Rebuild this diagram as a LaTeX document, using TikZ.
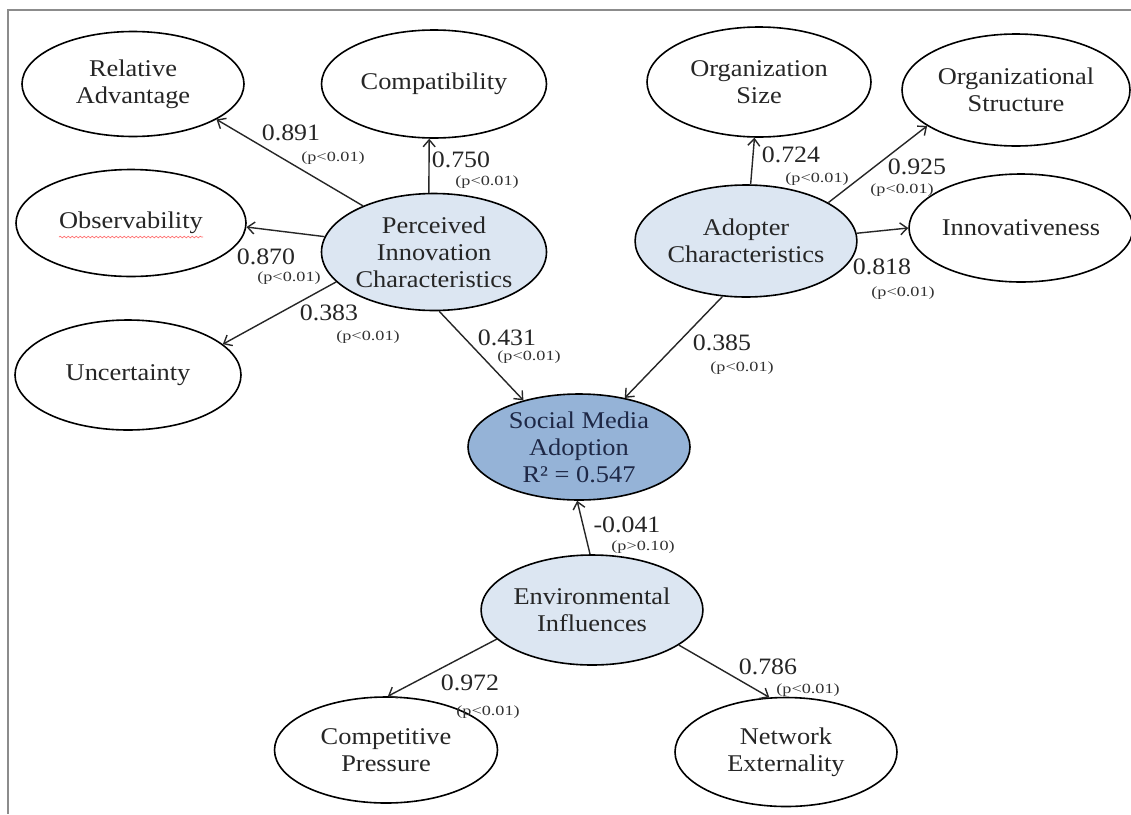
\documentclass[tikz,border=0pt]{standalone}
\usepackage{fontspec}
\setmainfont{Liberation Serif}[FakeStretch=1.1]
\newfontfamily\pvalfont{Liberation Serif}[FakeStretch=1.3]
\usepackage{xcolor}
\usepackage{tikz}
\usetikzlibrary{arrows.meta, shapes.geometric, decorations.pathmorphing}
\definecolor{lightfill}{RGB}{220,230,242}
\definecolor{darkfill}{RGB}{149,179,215}
\definecolor{framegray}{RGB}{140,140,140}
\definecolor{navytext}{RGB}{30,40,70}
\tikzset{
  construct/.style={ellipse, draw=black, line width=1.6pt, align=center, inner sep=0pt,
    font=\fontsize{24}{27}\selectfont, text=black!85},
  latent/.style={construct, fill=lightfill},
  coef/.style={font=\fontsize{23.5}{25}\selectfont, text=black!85, inner sep=0pt},
  pval/.style={font=\pvalfont\fontsize{14}{16}\selectfont, text=black!80, inner sep=0pt},
  arr/.style={-{Straight Barb[length=7pt,width=12pt]}, line width=1.4pt, black!85},
}
\begin{document}
\begin{tikzpicture}[x=1pt, y=-1pt]
			\useasboundingbox (0,0) rectangle (1131,814);
			\fill[white] (0,0) rectangle (1131,814);
			\draw[framegray, line width=2pt] (1131,10) -- (8,10) -- (8,814);
			% indicator constructs
			\foreach \nm/\x/\y/\w/\h/\lab in {ra/133/84/222/105/{Relative\\Advantage}, comp/434/84/225/108/{Compatibility},
				obs/131/223/230/107/{Observability}, unc/128/375/226/110/{Uncertainty},
				osize/759/82/224/110/{Organization\\Size}, ostr/1016/90/228/112/{Organizational\\Structure},
				innov/1021/228/217/108/{Innovativeness}, cp/386/750/223/106/{Competitive\\Pressure},
				ne/786/752/222/109/{Network\\Externality}}
			{
				\node[construct, minimum width=\w pt, minimum height=\h pt] (\nm) at (\x,\y) {\lab};
			}
			% latent constructs
			\node[latent, minimum width=225pt, minimum height=117pt] (pic) at (434,252) {Perceived\\Innovation\\Characteristics};
			\node[latent, minimum width=221pt, minimum height=112pt] (adopt) at (746,241) {Adopter\\Characteristics};
			\node[latent, minimum width=220pt, minimum height=110pt] (env) at (592,610) {Environmental\\Influences};
			\node[construct, fill=darkfill, text=navytext, minimum width=222pt, minimum height=106pt] (sma) at (579,447) {Social Media\\Adoption\\R² = 0.547};
			\draw[red!55, line width=0.7pt, decorate, decoration={snake, amplitude=0.8pt, segment length=4pt}]
				([xshift=-72pt, yshift=-14pt]obs.center) -- ([xshift=72pt, yshift=-14pt]obs.center);
			\foreach \a/\b in {pic.147/ra.337, pic.95/comp.265, pic.172/obs.358, pic.197/unc.18, pic.275/sma.140,
				adopt/osize, adopt.25/ostr.202, adopt.4/innov.180, adopt.247/sma.47,
				env.92/sma.268, env.197/cp.88, env.338/ne.107}
			{
				\draw[arr] (\a) -- (\b);
			}
			% path coefficients
			\foreach \nm/\x/\y/\v/\px/\py/\p in {a/291/133/0.891/333/158/{(p<0.01)}, b/461/160/0.750/487/182/{(p<0.01)},
				c/266/257/0.870/289/278/{(p<0.01)}, d/329/313/0.383/368/337/{(p<0.01)},
				e/507/338/0.431/529/357/{(p<0.01)}, f/791/155/0.724/817/179/{(p<0.01)},
				g/917/167/0.925/902/190/{(p<0.01)}, h/882/267/0.818/903/293/{(p<0.01)},
				i/722/343/0.385/742/368/{(p<0.01)}, j/627/525/-0.041/643/547/{(p>0.10)},
				k/470/683/0.972/488/712/{(p<0.01)}, l/768/667/0.786/808/690/{(p<0.01)}}
			{
				\node[coef] (coef\nm) at (\x,\y) {\v};
				\node[pval] (pval\nm) at (\px,\py) {\p};
			}
		\end{tikzpicture}
\end{document}
